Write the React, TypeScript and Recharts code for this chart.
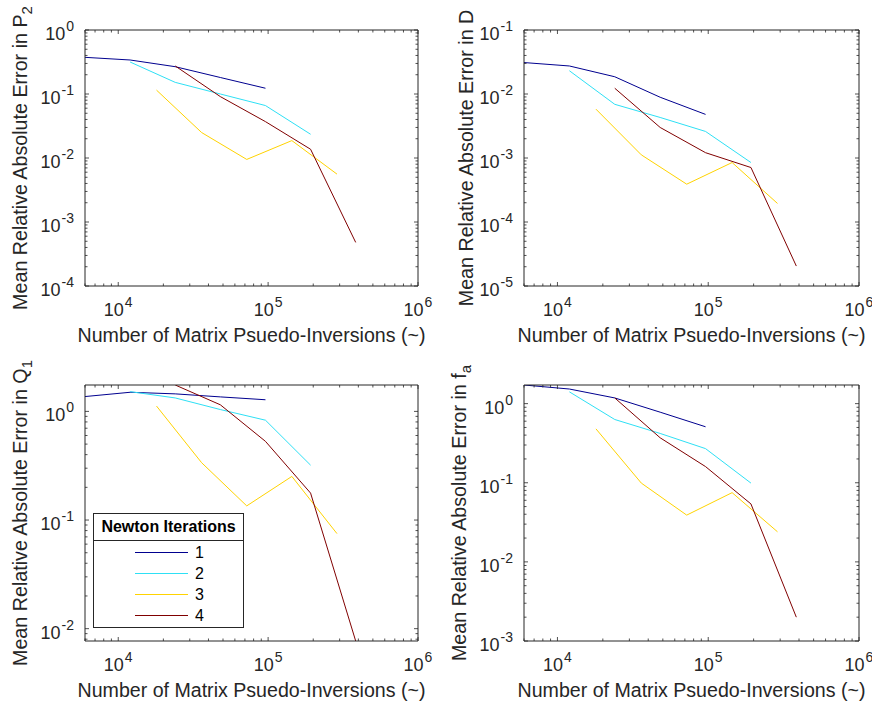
import { Legend, Line, LineChart, XAxis, YAxis } from "recharts"

const FONT = '"Liberation Sans", Arial, Helvetica, sans-serif'
const AXIS = "#262626"

// number of matrix pseudo-inversions for each Newton-iteration setting
const iter1X = [6000, 12000, 24000, 48000, 96000]
const iter2X = [12000, 24000, 48000, 96000, 192000]
const iter3X = [18000, 36000, 72000, 144000, 288000]
const iter4X = [24000, 48000, 96000, 192000, 384000]

const iterNames = ["1", "2", "3", "4"]
const iterColors = ["#00008F", "#2EE0F5", "#FFD300", "#800000"]

// mean relative absolute error in P2
const p2Iter1 = [0.374, 0.34, 0.267, 0.181, 0.123]
const p2Iter2 = [0.316, 0.152, 0.1, 0.066, 0.0235]
const p2Iter3 = [0.115, 0.025, 0.0095, 0.0187, 0.0056]
const p2Iter4 = [0.274, 0.091, 0.037, 0.0137, 0.00048]

// mean relative absolute error in D
const dIter1 = [0.031, 0.0274, 0.0186, 0.0089, 0.0048]
const dIter2 = [0.0231, 0.0069, 0.0043, 0.0026, 0.00085]
const dIter3 = [0.0058, 0.00112, 0.00039, 0.00085, 0.000195]
const dIter4 = [0.0123, 0.003, 0.00121, 0.00071, 0.0000205]

// mean relative absolute error in Q1
const q1Iter1 = [1.37, 1.5, 1.45, 1.36, 1.28]
const q1Iter2 = [1.52, 1.33, 1.04, 0.83, 0.32]
const q1Iter3 = [1.12, 0.337, 0.135, 0.252, 0.075]
const q1Iter4 = [1.75, 1.15, 0.53, 0.177, 0.0077]

// mean relative absolute error in fa
const faIter1 = [1.72, 1.53, 1.18, 0.78, 0.51]
const faIter2 = [1.41, 0.63, 0.42, 0.27, 0.099]
const faIter3 = [0.48, 0.099, 0.039, 0.075, 0.024]
const faIter4 = [1.18, 0.37, 0.16, 0.054, 0.002]

const xDomain: [number, number] = [6000, 1e6]

const iterX = [iter1X, iter2X, iter3X, iter4X]
const toPoints = (xs: number[], ys: number[]) => xs.map((x, i) => ({ x, y: ys[i] }))

// decade + minor log ticks inside [lo, hi]
const logTicks = (lo: number, hi: number) => {
  const out: number[] = []
  for (let e = Math.floor(Math.log10(lo)); e <= Math.ceil(Math.log10(hi)); e++) {
    for (let m = 1; m <= 9; m++) {
      const v = m * Math.pow(10, e)
      if (v >= lo * 0.999999 && v <= hi * 1.000001) out.push(v)
    }
  }
  return out
}

const isMajor = (v: number) => Math.abs(Math.log10(v) - Math.round(Math.log10(v))) < 1e-6
const expOf = (v: number) => String(Math.round(Math.log10(v)))

const MAJOR_LEN = 4
const MINOR_LEN = 2.5

const tickText = { fill: AXIS, fontFamily: FONT, fontSize: 18 }

function BottomTick({ x, y, payload }: any) {
  const major = isMajor(payload.value)
  return (
    <g>
      <line x1={x} y1={y} x2={x} y2={y - (major ? MAJOR_LEN : MINOR_LEN)} stroke={AXIS} strokeWidth={0.8} />
      {major && (
        <text x={x} y={y + 30} textAnchor="middle" {...tickText}>
          10<tspan dx={1} dy={-9} fontSize={14}>{expOf(payload.value)}</tspan>
        </text>
      )}
    </g>
  )
}

function TopTick({ x, y, payload }: any) {
  const major = isMajor(payload.value)
  return <line x1={x} y1={y} x2={x} y2={y + (major ? MAJOR_LEN : MINOR_LEN)} stroke={AXIS} strokeWidth={0.8} />
}

function LeftTick({ x, y, payload }: any) {
  const major = isMajor(payload.value)
  return (
    <g>
      <line x1={x} y1={y} x2={x + (major ? MAJOR_LEN : MINOR_LEN)} y2={y} stroke={AXIS} strokeWidth={0.8} />
      {major && (
        <text x={x - 11} y={y + 10} textAnchor="end" {...tickText}>
          10<tspan dx={1} dy={-9} fontSize={14}>{expOf(payload.value)}</tspan>
        </text>
      )}
    </g>
  )
}

function RightTick({ x, y, payload }: any) {
  const major = isMajor(payload.value)
  return <line x1={x} y1={y} x2={x - (major ? MAJOR_LEN : MINOR_LEN)} y2={y} stroke={AXIS} strokeWidth={0.8} />
}

function YLabel({ viewBox, gap, main, sub }: any) {
  const cx = viewBox.x + viewBox.width - gap
  const cy = viewBox.y + viewBox.height / 2
  return (
    <text
      x={cx}
      y={cy}
      transform={`rotate(-90 ${cx} ${cy})`}
      textAnchor="middle"
      fill={AXIS}
      fontFamily={FONT}
      fontSize={19.7}
    >
      {main}
      {sub && (
        <tspan dy={5} fontSize={15}>
          {sub}
        </tspan>
      )}
    </text>
  )
}

function XLabel({ viewBox }: any) {
  return (
    <text
      x={viewBox.x + viewBox.width / 2}
      y={viewBox.y + 56}
      textAnchor="middle"
      fill={AXIS}
      fontFamily={FONT}
      fontSize={19.6}
    >
      Number of Matrix Psuedo-Inversions (~)
    </text>
  )
}

function IterLegend({ payload }: any) {
  return (
    <div
      style={{
        position: "relative",
        width: 151,
        height: 115,
        boxSizing: "border-box",
        border: `1px solid ${AXIS}`,
        background: "#fff",
        fontFamily: FONT,
        color: "#000",
      }}
    >
      <div
        style={{
          height: 26,
          borderBottom: `1px solid ${AXIS}`,
          fontWeight: "bold",
          fontSize: 16,
          lineHeight: "26px",
          textAlign: "center",
        }}
      >
        Newton Iterations
      </div>
      {(payload || []).map((entry: any, i: number) => (
        <div
          key={i}
          style={{ position: "absolute", left: 41, top: 28 + i * 21, height: 21, display: "flex", alignItems: "center" }}
        >
          <span style={{ display: "inline-block", width: 53, borderTop: `1.5px solid ${entry.color}` }} />
          <span style={{ marginLeft: 7, fontSize: 16 }}>{entry.value}</span>
        </div>
      ))}
    </div>
  )
}

// margins leave 1px for each axis band, so plot edges land on the reference box
const panels = [
  {
    key: "p2", left: 0, top: 0, height: 350,
    margin: { top: 29, right: 17, bottom: 63, left: 84 },
    yDomain: [1e-4, 1] as [number, number], main: "Mean Relative Absolute Error in P", sub: "2", gap: 58,
    series: [p2Iter1, p2Iter2, p2Iter3, p2Iter4], legend: false,
  },
  {
    key: "d", left: 436, top: 0, height: 350,
    margin: { top: 29, right: 12, bottom: 63, left: 87 },
    yDomain: [1e-5, 0.1] as [number, number], main: "Mean Relative Absolute Error in D", sub: "", gap: 51,
    series: [dIter1, dIter2, dIter3, dIter4], legend: false,
  },
  {
    key: "q1", left: 0, top: 350, height: 357,
    margin: { top: 34, right: 17, bottom: 65, left: 84 },
    yDomain: [0.0077, 1.75] as [number, number], main: "Mean Relative Absolute Error in Q", sub: "1", gap: 58,
    series: [q1Iter1, q1Iter2, q1Iter3, q1Iter4], legend: true,
  },
  {
    key: "fa", left: 436, top: 350, height: 357,
    margin: { top: 34, right: 12, bottom: 65, left: 87 },
    yDomain: [0.001, 1.72] as [number, number], main: "Mean Relative Absolute Error in f", sub: "a", gap: 58,
    series: [faIter1, faIter2, faIter3, faIter4], legend: false,
  },
]

const xTicks = logTicks(xDomain[0], xDomain[1])

function Panel({ p }: { p: (typeof panels)[number] }) {
  const yTicks = logTicks(p.yDomain[0], p.yDomain[1])
  return (
    <div style={{ position: "absolute", left: p.left, top: p.top }}>
      <LineChart width={436} height={p.height} margin={p.margin}>
        <XAxis
          xAxisId="b"
          dataKey="x"
          type="number"
          scale="log"
          domain={xDomain}
          allowDataOverflow
          ticks={xTicks}
          interval={0}
          height={1}
          tickSize={0}
          tickMargin={0}
          tickLine={false}
          axisLine={{ stroke: AXIS }}
          tick={<BottomTick />}
          label={<XLabel />}
        />
        <XAxis
          xAxisId="t"
          orientation="top"
          dataKey="x"
          type="number"
          scale="log"
          domain={xDomain}
          allowDataOverflow
          ticks={xTicks}
          interval={0}
          height={1}
          tickSize={0}
          tickMargin={0}
          tickLine={false}
          axisLine={{ stroke: AXIS }}
          tick={<TopTick />}
        />
        <YAxis
          yAxisId="l"
          type="number"
          scale="log"
          domain={p.yDomain}
          allowDataOverflow
          ticks={yTicks}
          interval={0}
          width={1}
          tickSize={0}
          tickMargin={0}
          tickLine={false}
          axisLine={{ stroke: AXIS }}
          tick={<LeftTick />}
          label={<YLabel gap={p.gap} main={p.main} sub={p.sub} />}
        />
        <YAxis
          yAxisId="r"
          orientation="right"
          type="number"
          scale="log"
          domain={p.yDomain}
          allowDataOverflow
          ticks={yTicks}
          interval={0}
          width={1}
          tickSize={0}
          tickMargin={0}
          tickLine={false}
          axisLine={{ stroke: AXIS }}
          tick={<RightTick />}
        />
        {p.series.map((ys, i) => (
          <Line
            key={i}
            xAxisId="b"
            yAxisId="l"
            data={toPoints(iterX[i], ys)}
            dataKey="y"
            name={iterNames[i]}
            type="linear"
            stroke={iterColors[i]}
            strokeWidth={1}
            dot={false}
            isAnimationActive={false}
          />
        ))}
        {p.legend && (
          <Legend
            layout="vertical"
            align="center"
            verticalAlign="middle"
            content={(props: any) => <IterLegend {...props} />}
            wrapperStyle={{ left: 93, top: 163, width: 151, height: 115 }}
          />
        )}
      </LineChart>
    </div>
  )
}

export default function App() {
  return (
    <div
      style={{
        position: "absolute",
        left: 0,
        top: 0,
        width: 872,
        height: 707,
        background: "#fff",
        fontFamily: FONT,
      }}
    >
      {panels.map((p) => (
        <Panel key={p.key} p={p} />
      ))}
    </div>
  )
}
